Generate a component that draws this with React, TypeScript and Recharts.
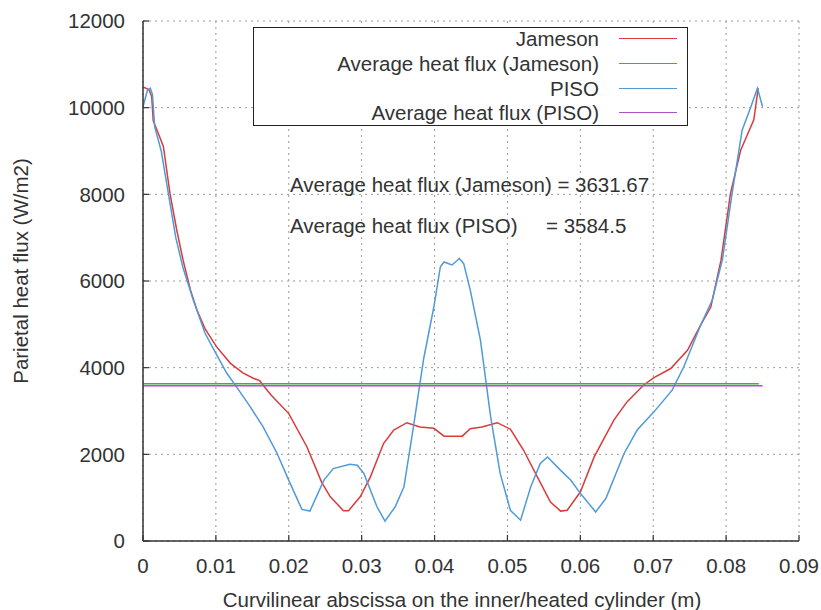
import React from "react";
import { LineChart, Line, XAxis, YAxis, CartesianGrid, Legend } from "recharts";

const xTicks = [0, 0.01, 0.02, 0.03, 0.04, 0.05, 0.06, 0.07, 0.08, 0.09];
const yTicks = [0, 2000, 4000, 6000, 8000, 10000, 12000];

const jamesonX = [0, 0.0008, 0.0012, 0.0014, 0.002, 0.0028, 0.0037, 0.0046, 0.0055, 0.0065, 0.0074, 0.0085, 0.0101, 0.012, 0.0137, 0.0152, 0.016, 0.0175, 0.02, 0.0225, 0.0245, 0.0257, 0.0275, 0.0282, 0.0298, 0.0312, 0.033, 0.0344, 0.0362, 0.038, 0.0399, 0.0413, 0.0438, 0.0449, 0.0465, 0.0486, 0.0504, 0.0522, 0.0541, 0.0559, 0.0573, 0.0582, 0.06, 0.0619, 0.0646, 0.0664, 0.0687, 0.0701, 0.0724, 0.0747, 0.0765, 0.0779, 0.0793, 0.0806, 0.082, 0.0829, 0.0838, 0.0844];
const jamesonY = [10480, 10420, 10250, 9700, 9450, 9100, 8020, 7200, 6480, 5800, 5330, 4900, 4480, 4100, 3880, 3750, 3700, 3380, 2940, 2170, 1360, 1020, 700, 700, 1020, 1480, 2250, 2560, 2730, 2630, 2600, 2420, 2420, 2590, 2630, 2730, 2580, 2100, 1480, 900, 690, 710, 1130, 1940, 2790, 3210, 3600, 3770, 3980, 4400, 4980, 5400, 6480, 8020, 9020, 9370, 9720, 10450];

const pisoX = [0, 0.0006, 0.001, 0.0013, 0.0016, 0.0025, 0.0035, 0.0045, 0.0055, 0.0069, 0.0085, 0.01, 0.0115, 0.0129, 0.0147, 0.0165, 0.0184, 0.02, 0.0218, 0.0229, 0.0248, 0.0261, 0.0284, 0.0294, 0.0303, 0.0321, 0.0332, 0.0346, 0.0358, 0.0371, 0.0385, 0.0399, 0.0408, 0.0413, 0.0424, 0.0434, 0.044, 0.0449, 0.0463, 0.0477, 0.049, 0.0504, 0.0518, 0.0532, 0.0545, 0.0555, 0.0573, 0.0587, 0.06, 0.0621, 0.0635, 0.066, 0.0678, 0.0701, 0.0726, 0.0742, 0.0765, 0.0781, 0.0795, 0.0808, 0.0822, 0.0834, 0.0843, 0.085];
const pisoY = [10020, 10400, 10450, 10300, 9560, 9000, 8000, 7000, 6300, 5560, 4800, 4330, 3870, 3540, 3100, 2630, 2020, 1400, 730, 690, 1400, 1670, 1770, 1750, 1560, 790, 460, 790, 1250, 2630, 4200, 5400, 6330, 6440, 6370, 6520, 6400, 5790, 4630, 2860, 1560, 710, 480, 1250, 1790, 1940, 1630, 1400, 1100, 670, 980, 2020, 2560, 2980, 3480, 4020, 4980, 5560, 6500, 8000, 9480, 10020, 10450, 10020];

const avgJamesonX = [0, 0.0845];
const avgJamesonY = [3631.67, 3631.67];
const avgPisoX = [0, 0.085];
const avgPisoY = [3584.5, 3584.5];

const zip = (xs: number[], ys: number[]) => xs.map((x, i) => ({ x, y: ys[i] }));

const jamesonData = zip(jamesonX, jamesonY);
const pisoData = zip(pisoX, pisoY);
const avgJamesonData = zip(avgJamesonX, avgJamesonY);
const avgPisoData = zip(avgPisoX, avgPisoY);

const seriesOrder = ["Jameson", "Average heat flux (Jameson)", "PISO", "Average heat flux (PISO)"];

const FONT = "'Liberation Sans', Arial, sans-serif";
const FS = 20.5;
const TXT = "#333";

const LegendBox = (props: any) => {
  const raw = props.payload || [];
  const payload = seriesOrder
    .map((n) => raw.find((p: any) => p.value === n))
    .filter(Boolean);
  return (
    <div
      style={{
        width: 433,
        height: 97,
        border: "1.5px solid #222",
        background: "#fff",
        position: "relative",
        fontFamily: FONT,
        fontSize: FS,
        color: TXT,
      }}
    >
      {payload.map((p: any, i: number) => (
        <div key={i} style={{ position: "absolute", top: 11 + i * 24.8 - 12, left: 0, width: 433, height: 24 }}>
          <span style={{ position: "absolute", right: 433 - 345, top: 0, whiteSpace: "nowrap", lineHeight: "24px" }}>{p.value}</span>
          <span style={{ position: "absolute", left: 365, top: 11, width: 58, height: 0, borderTop: `1.6px solid ${p.color}` }} />
        </div>
      ))}
    </div>
  );
};

export default function App() {
  return (
    <div style={{ position: "fixed", left: 0, top: 0, width: 821, height: 610, background: "#fff", overflow: "hidden" }}>
      <LineChart width={821} height={610} margin={{ top: 21, right: 22, bottom: 0, left: 0 }} style={{ fontFamily: FONT }}>
        <CartesianGrid stroke="#999" strokeDasharray="2 4" strokeWidth={1} />
        <XAxis
          dataKey="x"
          type="number"
          domain={[0, 0.09]}
          ticks={xTicks}
          height={69}
          tickSize={-6}
          tickMargin={23}
          axisLine={{ stroke: "#333", strokeWidth: 1.5 }}
          tickLine={{ stroke: "#333", strokeWidth: 1.2 }}
          tick={{ fill: TXT, fontSize: FS, fontFamily: FONT }}
          allowDataOverflow
        />
        <XAxis
          xAxisId="top"
          orientation="top"
          dataKey="x"
          type="number"
          domain={[0, 0.09]}
          ticks={xTicks}
          height={0}
          tickSize={-6}
          tick={false}
          axisLine={{ stroke: "#333", strokeWidth: 1.5 }}
          tickLine={{ stroke: "#333", strokeWidth: 1.2 }}
        />
        <YAxis
          type="number"
          domain={[0, 12000]}
          ticks={yTicks}
          width={143}
          tickSize={-6}
          tickMargin={24}
          axisLine={{ stroke: "#333", strokeWidth: 1.5 }}
          tickLine={{ stroke: "#333", strokeWidth: 1.2 }}
          tick={{ fill: TXT, fontSize: FS, fontFamily: FONT }}
        />
        <YAxis
          yAxisId="right"
          orientation="right"
          type="number"
          domain={[0, 12000]}
          ticks={yTicks}
          width={0}
          tickSize={-6}
          tick={false}
          axisLine={{ stroke: "#333", strokeWidth: 1.5 }}
          tickLine={{ stroke: "#333", strokeWidth: 1.2 }}
        />
        <Legend
          layout="horizontal"
          verticalAlign="middle"
          align="center"
          content={<LegendBox />}
          wrapperStyle={{ position: "absolute", left: 253, top: 27, width: 436, height: 100 }}
        />
        <Line data={jamesonData} dataKey="y" name="Jameson" stroke="#d93b3b" strokeWidth={1.5} dot={false} isAnimationActive={false} />
        <Line data={avgJamesonData} dataKey="y" name="Average heat flux (Jameson)" stroke="#3cb43c" strokeWidth={1.5} dot={false} isAnimationActive={false} />
        <Line data={pisoData} dataKey="y" name="PISO" stroke="#4f9ad8" strokeWidth={1.5} dot={false} isAnimationActive={false} />
        <Line data={avgPisoData} dataKey="y" name="Average heat flux (PISO)" stroke="#b14fc8" strokeWidth={1.5} dot={false} isAnimationActive={false} />
      </LineChart>
      <svg width={821} height={610} style={{ position: "absolute", left: 0, top: 0, pointerEvents: "none" }}>
        <g fontFamily={FONT} fontSize={FS} fill={TXT}>
          <text x={290} y={192} style={{ whiteSpace: "pre" }}>Average heat flux (Jameson) = 3631.67</text>
          <text x={290} y={233} style={{ whiteSpace: "pre" }}>{"Average heat flux (PISO)     = 3584.5"}</text>
          <text x={462} y={607} textAnchor="middle">Curvilinear abscissa on the inner/heated cylinder (m)</text>
          <text transform="translate(28.3,271) rotate(-90)" textAnchor="middle">Parietal heat flux (W/m2)</text>
        </g>
      </svg>
    </div>
  );
}
